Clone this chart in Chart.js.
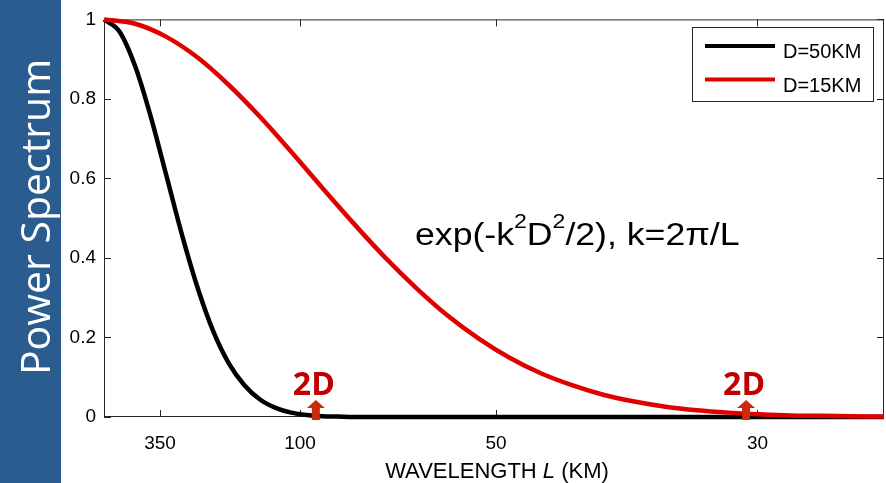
<!DOCTYPE html>
<html><head><meta charset="utf-8">
<script src="https://cdn.jsdelivr.net/npm/chart.js@4.4.1/dist/chart.umd.min.js"></script>
<style>html,body{margin:0;padding:0;background:#fff;overflow:hidden}#wrap{position:relative;width:886px;height:483px}canvas{display:block}</style>
</head><body><div id="wrap"><canvas id="c" width="886" height="483"></canvas></div>
<script>
// wavenumber k (rad/km) and power spectrum values
const kD50 = [0,0.005,0.01,0.015,0.02,0.025,0.03,0.035,0.04,0.045,0.05,0.055,0.06,0.065,0.07,0.075,0.08,0.1,0.15,0.2,0.25];
const pD50 = [1,0.969,0.882,0.755,0.607,0.458,0.325,0.216,0.135,0.080,0.044,0.023,0.011,0.005,0.002,0.001,0,0,0,0,0];
const kD15 = [0,0.01,0.02,0.03,0.04,0.05,0.06,0.07,0.08,0.09,0.10,0.11,0.12,0.13,0.14,0.15,0.16,0.17,0.18,0.19,0.20,0.21,0.22,0.23,0.24,0.25];
const pD15 = [1,0.989,0.956,0.904,0.835,0.755,0.667,0.576,0.487,0.402,0.325,0.256,0.198,0.149,0.110,0.080,0.056,0.039,0.026,0.017,0.011,0.007,0.004,0.003,0.002,0.001];
const seriesLabels = ['D=50KM','D=15KM'];
const seriesColors = ['#000000','#e00000'];
const xTickK = [0.01795, 0.06283, 0.12566, 0.20944];
const xTickLabels = ['350','100','50','30'];
const yTicks = [0,0.2,0.4,0.6,0.8,1];
const yTickLabels = ['0','0.2','0.4','0.6','0.8','1'];
const markK = [0.0679, 0.2058];
const markText = ['2D','2D'];
const xTitleParts = ['WAVELENGTH ', 'L', ' (KM)'];
const yTitle = 'Power Spectrum';

const FONT = '"Liberation Sans", Arial, sans-serif';

const decor = {
  id: 'decor',
  beforeDraw(chart) {
    const ctx = chart.ctx;
    ctx.save();
    ctx.fillStyle = '#fff';
    ctx.fillRect(0, 0, chart.width, chart.height);
    ctx.fillStyle = '#2a5c8f';
    ctx.fillRect(0, 0, 61, chart.height);
    ctx.translate(50, 217);
    ctx.rotate(-Math.PI / 2);
    ctx.fillStyle = '#fff';
    ctx.font = '41px "Open Sans", sans-serif';
    ctx.textAlign = 'center';
    ctx.textBaseline = 'alphabetic';
    ctx.fillText(yTitle, 0, 0);
    ctx.restore();
  },
  beforeDatasetsDraw(chart) {
    const ctx = chart.ctx, a = chart.chartArea;
    const xs = chart.scales.x, ys = chart.scales.y;
    ctx.save();
    ctx.strokeStyle = '#262626';
    ctx.lineWidth = 1;
    ctx.strokeRect(a.left + 0.5, a.top + 0.5, a.right - a.left - 1, a.bottom - a.top - 1);
    ctx.beginPath();
    const tl = 7;
    xTickK.forEach(v => {
      const px = Math.round(xs.getPixelForValue(v)) + 0.5;
      ctx.moveTo(px, a.bottom); ctx.lineTo(px, a.bottom - tl);
      ctx.moveTo(px, a.top); ctx.lineTo(px, a.top + tl);
    });
    yTicks.forEach(v => {
      const py = Math.round(ys.getPixelForValue(v)) + 0.5;
      ctx.moveTo(a.left, py); ctx.lineTo(a.left + tl, py);
      ctx.moveTo(a.right, py); ctx.lineTo(a.right - tl, py);
    });
    ctx.stroke();
    ctx.restore();
  },
  afterDraw(chart) {
    const ctx = chart.ctx, a = chart.chartArea;
    const xs = chart.scales.x;
    ctx.save();
    // legend
    ctx.fillStyle = '#fff';
    ctx.fillRect(692, 27, 181, 74);
    ctx.strokeStyle = '#262626';
    ctx.lineWidth = 1;
    ctx.strokeRect(692.5, 27.5, 181, 74);
    chart.data.datasets.forEach((ds, i) => {
      const y = 46 + i * 33.5;
      ctx.strokeStyle = ds.borderColor;
      ctx.lineWidth = 4;
      ctx.beginPath(); ctx.moveTo(705, y); ctx.lineTo(775, y); ctx.stroke();
      ctx.fillStyle = '#000';
      ctx.font = '20px ' + FONT;
      ctx.textAlign = 'left';
      ctx.textBaseline = 'alphabetic';
      ctx.fillText(ds.label, 783, y + 12);
    });
    // formula (slightly wide lettering as in the reference)
    ctx.fillStyle = '#000';
    ctx.textAlign = 'left';
    ctx.textBaseline = 'alphabetic';
    ctx.save();
    ctx.translate(415, 245);
    ctx.scale(1.15, 1);
    let x = 0;
    const parts = [['exp(-k', 31, 0], ['2', 20, -17], ['D', 31, 0], ['2', 20, -17], ['/2), k=2\u03c0/L', 31, 0]];
    parts.forEach(p => {
      ctx.font = p[1] + 'px ' + FONT;
      ctx.fillText(p[0], x, p[2]);
      x += ctx.measureText(p[0]).width;
    });
    ctx.restore();
    // x title
    const fonts = ['22px ' + FONT, 'italic 22px ' + FONT, '22px ' + FONT];
    let tw = 0;
    xTitleParts.forEach((t, i) => { ctx.font = fonts[i]; tw += ctx.measureText(t).width; });
    x = 497 - tw / 2;
    xTitleParts.forEach((t, i) => { ctx.font = fonts[i]; ctx.fillText(t, x, 478); x += ctx.measureText(t).width; });
    // 2D markers
    markK.forEach((k, i) => {
      const px = xs.getPixelForValue(k);
      ctx.fillStyle = '#cc2a0a';
      ctx.beginPath();
      ctx.moveTo(px, a.bottom - 17);
      ctx.lineTo(px + 9, a.bottom - 9);
      ctx.lineTo(px + 4, a.bottom - 9);
      ctx.lineTo(px + 4, a.bottom + 3);
      ctx.lineTo(px - 4, a.bottom + 3);
      ctx.lineTo(px - 4, a.bottom - 9);
      ctx.lineTo(px - 9, a.bottom - 9);
      ctx.closePath();
      ctx.fill();
      ctx.fillStyle = '#c00000';
      ctx.font = 'bold 32px "Open Sans", sans-serif';
      ctx.textAlign = 'center';
      ctx.fillText(markText[i], px - 2, a.bottom - 22);
    });
    ctx.restore();
  }
};

new Chart(document.getElementById('c'), {
  type: 'line',
  data: {
    datasets: [
      { label: seriesLabels[0], data: kD50.map((k, i) => ({x: k, y: pD50[i]})), borderColor: seriesColors[0], borderWidth: 4.5, order: 1 },
      { label: seriesLabels[1], data: kD15.map((k, i) => ({x: k, y: pD15[i]})), borderColor: seriesColors[1], borderWidth: 4.5, order: 0 }
    ]
  },
  options: {
    responsive: false,
    animation: false,
    devicePixelRatio: 1,
    layout: { padding: { left: 0, right: 2, top: 16, bottom: 0 } },
    elements: { point: { radius: 0 }, line: { cubicInterpolationMode: 'monotone', fill: false } },
    plugins: { legend: { display: false }, tooltip: { enabled: false } },
    clip: false,
    scales: {
      x: {
        type: 'linear', min: 0, max: 0.25,
        grid: { display: false, drawTicks: false }, border: { display: false },
        afterBuildTicks: s => { s.ticks = xTickK.map(v => ({ value: v })); },
        afterFit: s => { s.height = 66; },
        ticks: { callback: (v, i) => xTickLabels[i], font: { family: FONT, size: 19 }, color: '#000', padding: 15, maxRotation: 0, autoSkip: false }
      },
      y: {
        type: 'linear', min: 0, max: 1,
        grid: { display: false, drawTicks: false }, border: { display: false },
        afterBuildTicks: s => { s.ticks = yTicks.map(v => ({ value: v })); },
        afterFit: s => { s.width = 104; },
        ticks: { callback: (v, i) => yTickLabels[i], font: { family: FONT, size: 19 }, color: '#000', padding: 8 }
      }
    }
  },
  plugins: [decor]
});
</script></body></html>
